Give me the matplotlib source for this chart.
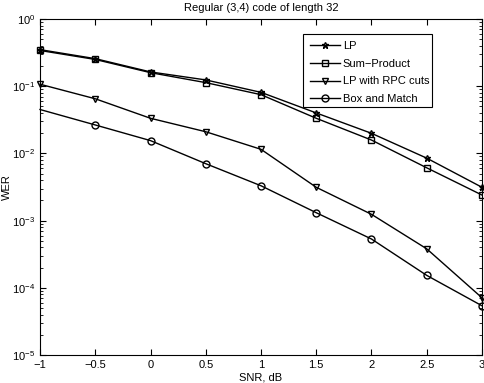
import numpy as np
import matplotlib
matplotlib.use("Agg")
import matplotlib.pyplot as plt
from matplotlib.patches import Rectangle

plt.rcParams['font.family'] = ['Liberation Sans', 'DejaVu Sans']

snr = [-1, -0.5, 0, 0.5, 1, 1.5, 2, 2.5, 3]
wer_lp = [0.35, 0.257, 0.163, 0.124, 0.081, 0.040, 0.0199, 0.0085, 0.00313]
wer_sp = [0.34, 0.25, 0.159, 0.113, 0.0748, 0.0333, 0.0158, 0.0061, 0.0024]
wer_rpc = [0.107, 0.065, 0.0333, 0.021, 0.0115, 0.00313, 0.00124, 0.00038, 7.1e-5]
wer_bm = [0.045, 0.0265, 0.0155, 0.00703, 0.0033, 0.00131, 0.000532, 0.000153, 5.4e-5]

fig = plt.figure(figsize=(4.85, 3.83), dpi=100)
ax = fig.add_axes([0.0825, 0.0731, 0.9113, 0.8773])

kw = dict(color='black', linewidth=1.0, markerfacecolor='none', markeredgecolor='black',
          markersize=5, clip_on=False)
ax.semilogy(snr, wer_lp, marker='*', label='LP', **kw)
ax.semilogy(snr, wer_sp, marker='s', label='Sum\u2212Product', **kw)
ax.semilogy(snr, wer_rpc, marker='v', label='LP with RPC cuts', **kw)
ax.semilogy(snr, wer_bm, marker='o', markevery=slice(1, None), label='Box and Match', **kw)

ax.set_xlim(-1, 3)
ax.set_ylim(1e-5, 1)
ax.set_xticks(snr)
ax.set_xticklabels(['\u22121', '\u22120.5', '0', '0.5', '1', '1.5', '2', '2.5', '3'])
ax.tick_params(which='both', direction='in', top=True, right=True, labelsize=8)
ax.tick_params(which='major', length=4)
ax.tick_params(which='minor', length=2)
ax.set_xlabel('SNR, dB', fontsize=8, labelpad=2)
ax.set_ylabel('WER', fontsize=8)
ax.yaxis.set_label_coords(-0.063, 0.5)
ax.set_title('Regular (3,4) code of length 32', fontsize=8, pad=6)

# legend frame, MATLAB style
ax.add_patch(Rectangle((0.595, 0.738), 0.292, 0.217, transform=ax.transAxes,
                       facecolor='white', edgecolor='black', linewidth=0.8, zorder=4))
leg = ax.legend(loc='upper left', bbox_to_anchor=(0.611, 0.935), fontsize=8,
                frameon=False, borderpad=0, borderaxespad=0,
                handlelength=2.7, handletextpad=0.25, labelspacing=0.7)
leg.set_zorder(5)

fig.savefig('out.png', dpi=100)
